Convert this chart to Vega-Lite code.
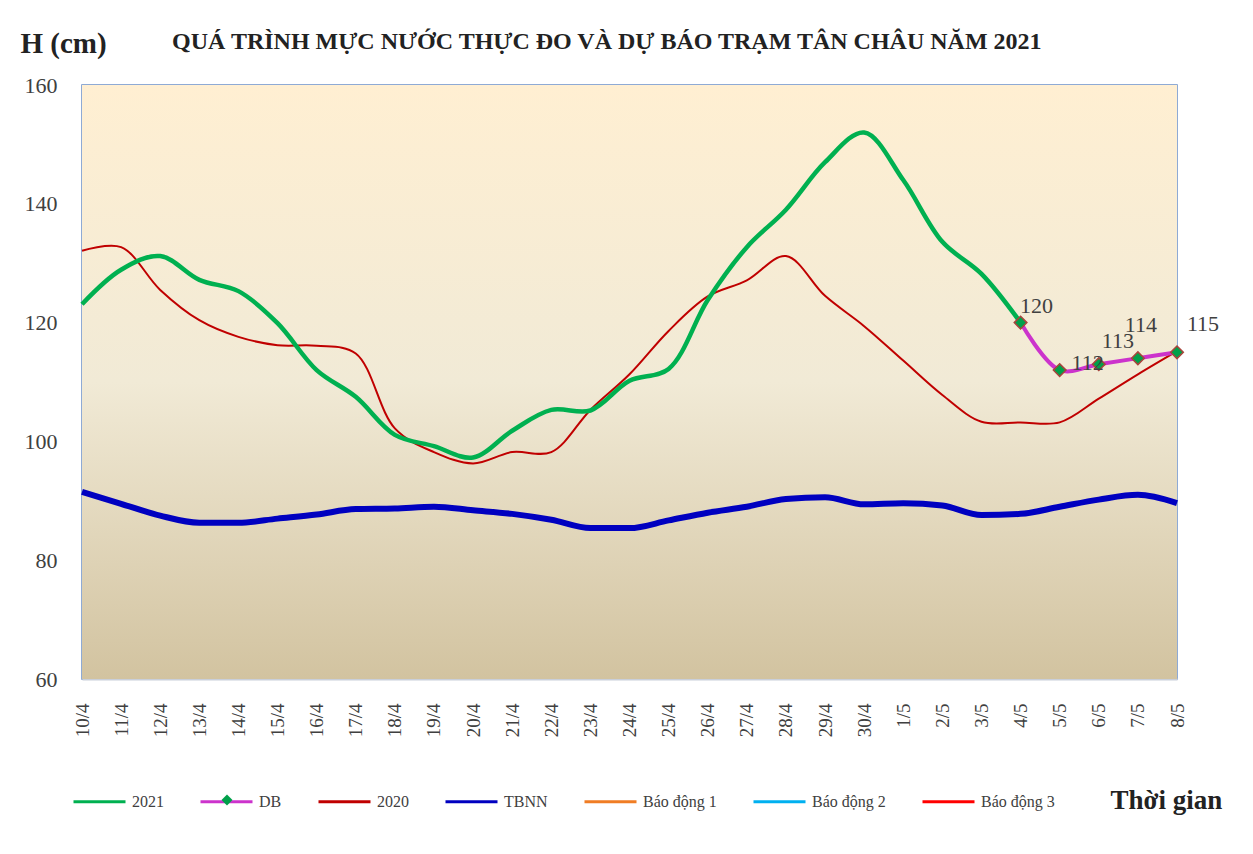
{
  "$schema": "https://vega.github.io/schema/vega-lite/v6.json",
  "width": 1095,
  "height": 594,
  "autosize": {"type": "none"},
  "padding": {"left": 82, "top": 85, "right": 76, "bottom": 175},
  "background": "white",
  "title": {
    "text": "QUÁ TRÌNH MỰC NƯỚC THỰC ĐO VÀ DỰ BÁO TRẠM TÂN CHÂU NĂM 2021",
    "anchor": "start",
    "frame": "group",
    "dx": 90,
    "offset": -44,
    "baseline": "alphabetic",
    "font": "Liberation Serif",
    "fontSize": 24,
    "fontWeight": "bold",
    "color": "#222222"
  },
  "datasets": {
    "main": [
      {"d": "10/4", "2021": 123.1, "2020": 132.1, "TBNN": 91.5, "DB": null},
      {"d": "11/4", "2021": 128.9, "2020": 132.7, "TBNN": 89.5, "DB": null},
      {"d": "12/4", "2021": 131.2, "2020": 125.5, "TBNN": 87.5, "DB": null},
      {"d": "13/4", "2021": 127.2, "2020": 120.4, "TBNN": 86.3, "DB": null},
      {"d": "14/4", "2021": 125.3, "2020": 117.6, "TBNN": 86.3, "DB": null},
      {"d": "15/4", "2021": 119.9, "2020": 116.2, "TBNN": 87.0, "DB": null},
      {"d": "16/4", "2021": 112.0, "2020": 116.1, "TBNN": 87.7, "DB": null},
      {"d": "17/4", "2021": 107.5, "2020": 114.8, "TBNN": 88.6, "DB": null},
      {"d": "18/4", "2021": 101.1, "2020": 102.2, "TBNN": 88.7, "DB": null},
      {"d": "19/4", "2021": 99.2, "2020": 98.2, "TBNN": 89.0, "DB": null},
      {"d": "20/4", "2021": 97.3, "2020": 96.3, "TBNN": 88.4, "DB": null},
      {"d": "21/4", "2021": 101.8, "2020": 98.2, "TBNN": 87.8, "DB": null},
      {"d": "22/4", "2021": 105.3, "2020": 98.2, "TBNN": 86.8, "DB": null},
      {"d": "23/4", "2021": 105.2, "2020": 105.3, "TBNN": 85.4, "DB": null},
      {"d": "24/4", "2021": 110.2, "2020": 111.3, "TBNN": 85.4, "DB": null},
      {"d": "25/4", "2021": 112.2, "2020": 118.6, "TBNN": 86.7, "DB": null},
      {"d": "26/4", "2021": 123.8, "2020": 124.4, "TBNN": 88.0, "DB": null},
      {"d": "27/4", "2021": 132.7, "2020": 127.1, "TBNN": 89.0, "DB": null},
      {"d": "28/4", "2021": 139.0, "2020": 131.2, "TBNN": 90.3, "DB": null},
      {"d": "29/4", "2021": 147.0, "2020": 124.5, "TBNN": 90.6, "DB": null},
      {"d": "30/4", "2021": 152.0, "2020": 119.4, "TBNN": 89.4, "DB": null},
      {"d": "1/5", "2021": 144.0, "2020": 113.6, "TBNN": 89.6, "DB": null},
      {"d": "2/5", "2021": 133.6, "2020": 107.8, "TBNN": 89.2, "DB": null},
      {"d": "3/5", "2021": 128.2, "2020": 103.3, "TBNN": 87.6, "DB": null},
      {"d": "4/5", "2021": 120, "2020": 103.2, "TBNN": 87.8, "DB": 120},
      {"d": "5/5", "2021": null, "2020": 103.2, "TBNN": 89.0, "DB": 112},
      {"d": "6/5", "2021": null, "2020": 107.2, "TBNN": 90.2, "DB": 113},
      {"d": "7/5", "2021": null, "2020": 111.3, "TBNN": 91.0, "DB": 114},
      {"d": "8/5", "2021": null, "2020": 115.2, "TBNN": 89.6, "DB": 115}
    ]
  },
  "config": {
    "view": {"stroke": "#6A8FC7", "strokeWidth": 1.5},
    "axis": {
      "labelFont": "Liberation Serif",
      "titleFont": "Liberation Serif",
      "labelColor": "#404040",
      "titleColor": "#222222",
      "grid": false,
      "ticks": false
    },
    "legend": {
      "labelFont": "Liberation Serif",
      "labelFontSize": 16,
      "labelColor": "#404040"
    }
  },
  "layer": [
    {
      "data": {"values": [{}]},
      "mark": {
        "type": "rect",
        "fill": {
          "gradient": "linear",
          "x1": 0, "y1": 0, "x2": 0, "y2": 1,
          "stops": [
            {"offset": 0, "color": "#FFEFD2"},
            {"offset": 0.5, "color": "#F1EAD6"},
            {"offset": 1, "color": "#D2C3A0"}
          ]
        },
        "strokeWidth": 0
      },
      "encoding": {
        "x": {"value": 0},
        "x2": {"value": "width"},
        "y": {"value": 0},
        "y2": {"value": "height"}
      }
    },
    {
      "data": {"name": "main"},
      "transform": [{"fold": ["2021", "DB", "2020", "TBNN"], "as": ["series", "v"]}],
      "encoding": {
        "x": {
          "field": "d",
          "type": "ordinal",
          "sort": null,
          "scale": {"type": "point", "padding": 0},
          "axis": {
            "labelAngle": 270,
            "labelAlign": "right",
            "labelBaseline": "middle",
            "labelFontSize": 19,
            "labelPadding": 24,
            "domain": true,
            "domainColor": "#C9CFDA",
            "domainWidth": 2,
            "title": "Thời gian",
            "titleFontSize": 27,
            "titleFontWeight": "bold",
            "titleAngle": 0,
            "titleAlign": "left",
            "titleBaseline": "alphabetic",
            "titleX": 1028,
            "titleY": 129
          }
        },
        "y": {
          "field": "v",
          "type": "quantitative",
          "scale": {"domain": [60, 160], "nice": false, "zero": false},
          "axis": {
            "values": [60, 80, 100, 120, 140, 160],
            "labelFontSize": 22,
            "labelPadding": 25,
            "domain": false,
            "title": "H (cm)",
            "titleFontSize": 29,
            "titleFontWeight": "bold",
            "titleAngle": 0,
            "titleAlign": "left",
            "titleBaseline": "alphabetic",
            "titleX": -62,
            "titleY": -33
          }
        }
      },
      "layer": [
        {
          "transform": [{"filter": "datum.series === 'TBNN'"}],
          "mark": {"type": "line", "strokeWidth": 6, "interpolate": "monotone"},
          "encoding": {
            "color": {
              "field": "series",
              "type": "nominal",
              "scale": {
                "domain": ["2021", "DB", "2020", "TBNN", "Báo động 1", "Báo động 2", "Báo động 3"],
                "range": ["#00B050", "#CC33CC", "#C00000", "#0000C0", "#F07D24", "#00B0F0", "#FF0000"]
              },
              "legend": {
                "orient": "none",
                "direction": "horizontal",
                "legendX": -10,
                "legendY": 689,
                "title": null,
                "symbolType": "stroke",
                "symbolSize": 2704,
                "symbolStrokeWidth": 3,
                "labelOffset": 5,
                "columnPadding": 30,
                "padding": 0
              }
            }
          }
        },
        {
          "transform": [{"filter": "datum.series === '2020'"}],
          "mark": {"type": "line", "strokeWidth": 2, "interpolate": "catmull-rom"},
          "encoding": {
            "color": {"field": "series", "type": "nominal"}
          }
        },
        {
          "transform": [{"filter": "datum.series === '2021'"}],
          "mark": {"type": "line", "strokeWidth": 4.5, "interpolate": "catmull-rom"},
          "encoding": {
            "color": {"field": "series", "type": "nominal"}
          }
        },
        {
          "transform": [{"filter": "datum.series === 'DB'"}],
          "mark": {"type": "line", "strokeWidth": 4, "interpolate": "catmull-rom"},
          "encoding": {
            "color": {"field": "series", "type": "nominal"}
          }
        },
        {
          "transform": [{"filter": "datum.series === 'DB'"}],
          "mark": {"type": "point", "filled": true, "fill": "#00A04A", "stroke": "#A8443C", "strokeWidth": 1.5, "size": 160, "opacity": 1},
          "encoding": {
            "shape": {
              "field": "series",
              "type": "nominal",
              "scale": {"domain": ["DB"], "range": ["diamond"]},
              "legend": {
                "orient": "none",
                "legendX": 137,
                "legendY": 707,
                "title": null,
                "padding": 0,
                "symbolSize": 120,
                "symbolFillColor": "#00A04A",
                "symbolStrokeColor": "#A8443C",
                "symbolStrokeWidth": 1.5,
                "labelOpacity": 0
              }
            }
          }
        },
        {
          "transform": [{"filter": "datum.series === 'DB' && datum.d === '4/5'"}],
          "mark": {"type": "text", "font": "Liberation Serif", "fontSize": 22, "color": "#404040", "dx": 16, "dy": -17},
          "encoding": {"text": {"field": "v", "type": "quantitative"}}
        },
        {
          "transform": [{"filter": "datum.series === 'DB' && datum.d === '5/5'"}],
          "mark": {"type": "text", "font": "Liberation Serif", "fontSize": 22, "color": "#404040", "dx": 28, "dy": -7},
          "encoding": {"text": {"field": "v", "type": "quantitative"}}
        },
        {
          "transform": [{"filter": "datum.series === 'DB' && datum.d === '6/5'"}],
          "mark": {"type": "text", "font": "Liberation Serif", "fontSize": 22, "color": "#404040", "dx": 19, "dy": -23},
          "encoding": {"text": {"field": "v", "type": "quantitative"}}
        },
        {
          "transform": [{"filter": "datum.series === 'DB' && datum.d === '7/5'"}],
          "mark": {"type": "text", "font": "Liberation Serif", "fontSize": 22, "color": "#404040", "dx": 3, "dy": -33},
          "encoding": {"text": {"field": "v", "type": "quantitative"}}
        },
        {
          "transform": [{"filter": "datum.series === 'DB' && datum.d === '8/5'"}],
          "mark": {"type": "text", "font": "Liberation Serif", "fontSize": 22, "color": "#404040", "dx": 26, "dy": -28},
          "encoding": {"text": {"field": "v", "type": "quantitative"}}
        }
      ]
    }
  ]
}
